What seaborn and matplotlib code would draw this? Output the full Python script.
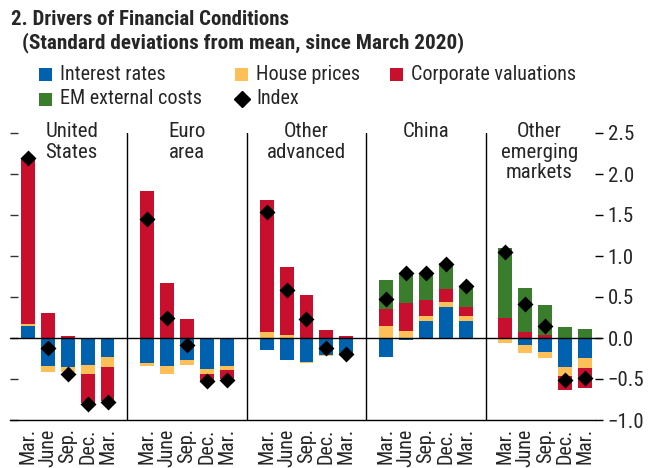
import numpy as np
import pandas as pd
import matplotlib
matplotlib.use("Agg")
import matplotlib.pyplot as plt
from matplotlib import font_manager
from matplotlib.patches import Rectangle
import seaborn as sns

# ---------------- data ----------------
regions = ["United\nStates", "Euro\narea", "Other\nadvanced", "China", "Other\nemerging\nmarkets"]
periods = ["Mar.", "June", "Sep.", "Dec.", "Mar."]

interest_rates = [0.15, -0.34, -0.35, -0.325, -0.235,
                  -0.305, -0.337, -0.273, -0.374, -0.337,
                  -0.15, -0.265, -0.29, -0.21, -0.195,
                  -0.228, -0.028, 0.211, 0.382, 0.211,
                  0.0, -0.09, -0.175, -0.358, -0.248]
house_prices = [0.015, -0.08, -0.07, -0.11, -0.115,
                -0.033, -0.098, -0.053, -0.06, -0.049,
                0.068, 0.04, -0.015, -0.012, -0.01,
                0.15, 0.089, 0.053, 0.061, 0.061,
                -0.065, -0.093, -0.073, -0.10, -0.114]
corporate_valuations = [2.03, 0.30, 0.03, -0.355, -0.42,
                        1.796, 0.675, 0.235, -0.085, -0.114,
                        1.62, 0.82, 0.52, 0.10, 0.028,
                        0.204, 0.341, 0.203, 0.159, 0.102,
                        0.248, 0.069, 0.04, -0.179, -0.252]
em_external_costs = [0, 0, 0, 0, 0,
                     0, 0, 0, 0, 0,
                     0, 0, 0, 0, 0,
                     0.357, 0.358, 0.329, 0.313, 0.26,
                     0.853, 0.545, 0.366, 0.138, 0.11]
index_values = [2.195, -0.12, -0.435, -0.805, -0.785,
                1.455, 0.244, -0.09, -0.53, -0.51,
                1.537, 0.59, 0.23, -0.12, -0.195,
                0.479, 0.788, 0.796, 0.906, 0.634,
                1.049, 0.418, 0.142, -0.508, -0.488]

series_names = ["Interest rates", "House prices", "Corporate valuations", "EM external costs"]
colors = {"Interest rates": "#0062AE", "House prices": "#FDBF57",
          "Corporate valuations": "#C8102E", "EM external costs": "#3A7D2C"}

# ---------------- style / font choice ----------------
sns.set_style("white")
fonts = font_manager.fontManager.ttflist
names = {f.name for f in fonts}
family, stretch = "DejaVu Sans", "normal"
chosen = False
for pref in ["Liberation Sans Narrow", "Roboto Condensed", "Arial Narrow",
             "Nimbus Sans Narrow", "Open Sans Condensed", "Noto Sans Condensed"]:
    if pref in names:
        family, chosen = pref, True
        break
if not chosen:
    order = ["Roboto", "Noto Sans", "Open Sans", "Liberation Sans", "Inter", "Lato", "DejaVu Sans"]
    for fam in order:
        cands = [f for f in fonts if f.name == fam and str(f.stretch) in
                 ("condensed", "semi-condensed", "extra-condensed", "625", "500", "700")]
        if cands:
            family, stretch = fam, str(cands[0].stretch)
            chosen = True
            break
if not chosen:
    for f in fonts:
        if "Narrow" in f.name or "Condensed" in f.name:
            family = f.name
            break
plt.rcParams["font.family"] = [family, "DejaVu Sans"]
plt.rcParams["font.stretch"] = stretch

W, H = 653, 468
fig = plt.figure(figsize=(W / 100, H / 100), dpi=100)

x0, x1, ytop, ybot = 10, 595, 133, 420
ax = fig.add_axes([x0 / W, 1 - ybot / H, (x1 - x0) / W, (ybot - ytop) / H])

n_per = len(periods)
pos = [6 * r + j for r in range(len(regions)) for j in range(n_per)]
df = pd.DataFrame({"pos": pos,
                   "Interest rates": interest_rates,
                   "House prices": house_prices,
                   "Corporate valuations": corporate_valuations,
                   "EM external costs": em_external_costs,
                   "Index": index_values})

bw = 0.70
pos_base = np.zeros(len(df))
neg_base = np.zeros(len(df))
for name in series_names:
    v = df[name].to_numpy()
    b = np.where(v >= 0, pos_base, neg_base)
    ax.bar(df["pos"], v, width=bw, bottom=b, color=colors[name], linewidth=0, zorder=2)
    pos_base = pos_base + np.where(v >= 0, v, 0)
    neg_base = neg_base + np.where(v < 0, v, 0)

sns.scatterplot(data=df, x="pos", y="Index", marker="D", s=66, color="black",
                linewidth=0, ax=ax, zorder=4, legend=False)

ax.set_xlim(-0.9, 28.45)
ax.set_ylim(-1.0, 2.5)

for r in range(1, len(regions)):
    ax.axvline(6 * r - 1, color="black", lw=1.0, zorder=1)
ax.axhline(0, xmin=0, xmax=1.01, color="black", lw=1.0, zorder=3, clip_on=False)

for s in ["top", "left", "right"]:
    ax.spines[s].set_visible(False)
ax.spines["bottom"].set_color("black")
ax.spines["bottom"].set_linewidth(1.0)
ax.set_xlabel("")
ax.set_ylabel("")

ax.set_xticks(pos)
ax.set_xticklabels(periods * len(regions), rotation=90, fontsize=14.5,
                   va="top", ha="center")
ax.tick_params(axis="x", which="major", length=0, pad=6)
minor = [6 * r + j - 0.5 for r in range(len(regions)) for j in range(n_per + 1)]
ax.set_xticks(minor, minor=True)
ax.tick_params(axis="x", which="minor", direction="in", length=6, width=1, color="black")

yt = [2.5, 2.0, 1.5, 1.0, 0.5, 0.0, -0.5, -1.0]
ax.set_yticks(yt)
ax.tick_params(axis="y", left=True, right=False, labelleft=False, direction="in",
               length=6, width=1, color="#333333")
sec = ax.secondary_yaxis("right")
sec.set_yticks(yt)
sec.set_yticklabels([f"{t:.1f}".replace("-", "\u2212") for t in yt], fontsize=15)
sec.tick_params(direction="out", length=6, width=1, color="black", pad=3)
sec.spines["right"].set_visible(False)

centers = [2.2, 8, 14, 20, 25.7]
for c, lab in zip(centers, regions):
    ax.text(c, 2.63, lab, ha="center", va="top", fontsize=15, linespacing=1.1, zorder=5)

# ---------------- title & legend ----------------
ov = fig.add_axes([0, 0, 1, 1], facecolor="none")
ov.set_xlim(0, W)
ov.set_ylim(H, 0)
ov.axis("off")
ov.text(11, 25, "2. Drivers of Financial Conditions", fontsize=15, fontweight="bold",
        va="baseline", ha="left")
ov.text(22, 48, "(Standard deviations from mean, since March 2020)", fontsize=15.3,
        fontweight="bold", va="baseline", ha="left")

items = [("Interest rates", 39, 74), ("House prices", 235, 74),
         ("Corporate valuations", 390, 74), ("EM external costs", 39, 99)]
for name, lx, ly in items:
    ov.add_patch(Rectangle((lx, ly - 6.5), 13, 13, color=colors[name], lw=0))
    ov.text(lx + 21, ly, name, fontsize=14.5, va="center", ha="left")
ov.plot([241.5], [99], marker="D", ms=8.5, color="black", lw=0)
ov.text(256, 99, "Index", fontsize=14.5, va="center", ha="left")

fig.savefig("out.png", dpi=100)
